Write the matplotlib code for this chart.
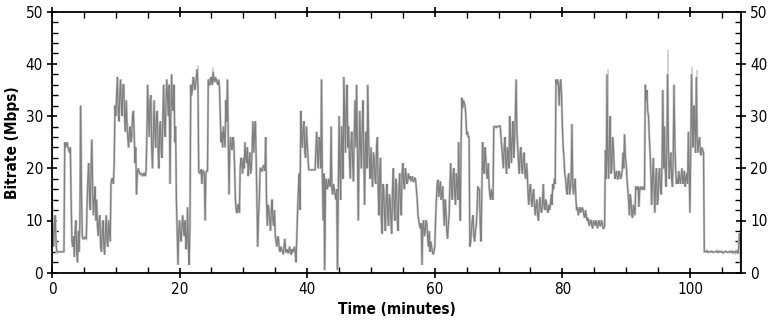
import numpy as np
import matplotlib
matplotlib.use("Agg")
import matplotlib.pyplot as plt
from matplotlib.ticker import MultipleLocator

# Bitrate samples (Mbps), one every 0.25 minute
mbps = [
    15, 5, 11, 4, 4, 4, 4, 4,
    25, 24.5, 24, 23, 14, 5, 3, 10,
    2, 4, 32, 7, 6.5, 6.6, 13, 21,
    12, 25.5, 11, 16.5, 14, 7, 11, 4,
    10, 3.5, 11, 5, 8, 17, 18, 21,
    30, 37.5, 29, 37, 30, 36, 27, 29,
    24, 28, 26, 31, 21, 15, 20, 19,
    19, 18.5, 19, 19.5, 36, 26, 34, 20,
    33, 24, 31, 20, 29, 22, 36, 26,
    37, 30, 17, 38, 31, 25, 14, 1.5,
    10, 6, 11, 7, 4.5, 12.5, 1.5, 36,
    35, 37, 36, 39, 19.5, 19.3, 17, 19.5,
    10, 19.5, 37, 36, 37, 38.5, 36.5, 37,
    36, 35.5, 25, 24, 26, 33, 37, 15,
    26, 23.5, 25, 14, 11.4, 13, 20, 21,
    22, 25, 21, 18.5, 23, 20, 29, 27,
    22, 5, 14, 20, 19.5, 20.5, 26, 9,
    12, 8, 14, 9, 7, 5, 6.5, 4,
    4.5, 3.5, 6.5, 4, 3.7, 5, 3.5, 4,
    5, 2, 12, 19, 31, 24, 29, 22,
    25, 19.7, 19.7, 19.7, 19.7, 19.7, 27, 20,
    25, 37, 10, 0.5, 18, 16.5, 17, 28,
    15, 16, 14, 0.5, 30, 14, 25, 37.5,
    23, 36, 28, 18, 27, 17.5, 33, 36,
    10, 31, 20, 33, 13, 27, 36, 21,
    24, 16.5, 22, 17, 26, 11, 22, 7.5,
    16, 8, 17, 9, 14, 7.5, 20, 10,
    17, 8, 19, 11, 21, 16, 19, 17.5,
    18, 17.5, 18.5, 17.5, 17.8, 14, 10, 8.5,
    1.5, 10, 8, 9.5, 5, 4, 5, 3.5,
    5, 14, 17.8, 16, 14, 16.5, 9, 12,
    6.5, 11, 21, 14, 20, 13, 17, 25,
    10, 33.5, 33, 32, 26.5, 26, 5, 8,
    11, 6, 9, 16.5, 16, 6, 25, 19,
    22, 18, 17, 14, 14.5, 28, 28, 28,
    28, 28.2, 24, 20, 26, 19, 23, 30,
    21, 29, 25, 37, 24, 19, 24, 19,
    23, 18, 19, 13, 17, 12.6, 16, 11,
    14, 10, 14.5, 11.5, 17, 12, 13.5, 11.5,
    12, 15, 17, 18, 37, 37, 32, 37,
    28, 22, 18, 15, 19, 16, 28.5, 15,
    18, 12, 11, 12.5, 12, 12, 10.5, 11,
    10.5, 9, 10, 8.5, 9.5, 10, 8.5, 10,
    9, 9.5, 8.5, 23.5, 38, 18, 30, 20,
    24, 18, 19.5, 18, 19, 18.5, 23, 26.5,
    21, 16, 11, 14, 10.5, 12, 16.5, 16,
    12.6, 16.5, 16, 16, 36, 35, 30, 23,
    13, 22, 11.5, 20, 14, 20, 15, 35,
    28, 16.5, 38, 18, 23, 16.5, 36, 20,
    18, 19.5, 17, 20, 18, 16.5, 19, 27,
    11.5, 38, 24, 28, 37.5, 23, 26, 22.5,
    23.5, 4, 4, 4, 4, 4, 4, 4,
    4, 4.2, 3.9, 4, 4.1, 3.8, 4, 4,
    3.9, 4.1, 4, 3.8, 4, 4.2, 3.7, 7.5,
    0,
]
# In-between readings (at +0.125 minute after each sample above)
mbps_mid = [
    8, 9, 6, 4, 4, 4, 4, 4,
    24, 25, 23.5, 24, 6, 7, 8, 4,
    8, 10, 15, 6.5, 6.8, 6.5, 18, 15,
    20, 16, 14, 10, 9, 10, 5, 8,
    5, 8, 6, 10, 6, 18, 17, 32,
    34, 31, 34, 32, 36, 30, 33, 26,
    27, 25, 30, 27, 24, 19, 19.5, 18.8,
    18.8, 19, 18.5, 27, 30, 33, 24, 26,
    27, 30, 24, 28, 23, 30, 28, 33,
    33, 36, 30, 32, 36, 28, 8, 8,
    7, 9, 8, 10, 6, 5, 9, 34,
    37.5, 35, 37.5, 36, 19, 19.8, 19.5, 19,
    19, 19.5, 36, 37.5, 36, 37, 37.5, 36.5,
    37, 30, 27, 28, 24, 29, 26, 24,
    24, 26, 20, 12, 13, 11.5, 22, 19,
    20, 22, 24, 21, 19, 24, 23, 29,
    14, 11, 20, 19.5, 20.5, 19.5, 14, 13,
    10, 12, 10, 12, 6, 7, 4.5, 5,
    4, 5, 4, 4.5, 4.2, 3.8, 4.5, 4.2,
    4, 7, 16, 12, 26, 28, 23, 28,
    22, 19.7, 19.7, 19.7, 19.7, 24, 22, 26,
    20, 19, 19, 17, 16, 18, 16.5, 16,
    17, 15, 16, 15, 20, 28, 18, 30,
    32, 24, 22, 25, 21, 26, 24, 25,
    22, 24, 28, 22, 25, 20, 26, 18,
    19, 23, 18, 24, 16, 20, 10, 17,
    11, 14, 11, 15, 10, 16, 12, 18,
    10, 16, 13, 19, 17, 20, 17, 19,
    18.5, 18, 17.5, 18.2, 16, 11, 9, 9.5,
    9, 7, 10, 7, 8, 6, 4, 4,
    10, 17, 14.5, 17.5, 15, 12, 14, 8,
    9, 17, 16, 19, 15, 19, 14, 16,
    25, 31.5, 32.5, 30, 27, 26, 6, 10,
    7, 8, 12, 16, 9, 16, 20, 24,
    19, 21, 15, 16, 14, 28, 27.8, 28,
    28, 26, 22, 24, 21, 24, 20, 25,
    26, 22, 30, 27, 21, 23, 20, 22,
    19, 21, 15, 16, 14, 15, 13, 13,
    11, 13, 12, 13, 13, 14, 12, 13,
    13, 13, 16, 17, 36, 36, 36, 34,
    24, 19, 16, 18, 15, 18, 17, 17,
    14, 12.5, 12, 11.5, 12.5, 11, 12, 10,
    9.5, 10, 9, 10, 9, 9.5, 9.5, 9,
    10, 8.5, 9, 18, 22, 25, 19, 26,
    20, 19, 18, 19.5, 18, 19.5, 20, 22,
    18, 14, 15, 11, 13, 11, 16, 16.5,
    16, 16, 16.5, 16, 33, 31, 26, 19,
    18, 16, 18, 13, 19, 16, 21, 20,
    20, 24, 24, 21, 18, 22, 25, 17,
    17, 18, 18.5, 17, 19.5, 18, 17, 19,
    24, 28, 32, 23, 26, 25, 23, 24,
    23, 4, 4.2, 3.9, 4, 4.1, 3.9, 4,
    4, 3.9, 4.1, 4, 3.8, 4, 4.1, 3.9,
    4, 3.9, 4.1, 4, 3.8, 4, 4.5, 7,
]
sample_step_min = 0.25

# Peak (light grey) spikes that rise above the average trace
peak_minutes = [22.9, 25.3, 87.2, 96.6, 100.3, 101.1]
peak_mbps = [39.8, 39.5, 39.0, 42.6, 39.5, 38.8]

x_ticks = [0, 20, 40, 60, 80, 100]
y_ticks = [0, 10, 20, 30, 40, 50]

plt.rcParams['font.family'] = ['DejaVu Sans']
plt.rcParams['font.stretch'] = 'condensed'

# interleave main samples and in-between readings along time
n = len(mbps)
minutes = np.empty(n + len(mbps_mid))
values = np.empty(n + len(mbps_mid))
minutes[0::2] = np.arange(n) * sample_step_min
minutes[1::2] = np.arange(len(mbps_mid)) * sample_step_min + sample_step_min / 2
values[0::2] = mbps
values[1::2] = mbps_mid

fig = plt.figure(figsize=(7.70, 3.22), dpi=100)
ax = fig.add_axes([52 / 770, 1 - 272.7 / 322, (741 - 52) / 770, (272.7 - 11.7) / 322])

ax.plot(minutes, values, color='#cdcdcd', lw=1.8, solid_joinstyle='miter')
ax.vlines(peak_minutes, np.interp(peak_minutes, minutes, values), peak_mbps,
          color='#cdcdcd', lw=1.2)
ax.plot(minutes, values, color='#808080', lw=0.9, solid_joinstyle='miter')

ax.set_xlim(0, 108)
ax.set_ylim(0, 50)
ax.set_xticks(x_ticks)
ax.set_yticks(y_ticks)
ax.xaxis.set_minor_locator(MultipleLocator(5))
ax.yaxis.set_minor_locator(MultipleLocator(2))

ax.tick_params(which='major', direction='inout', length=7, width=1.2,
               top=True, right=True, labelright=True, labelsize=11, pad=3)
ax.tick_params(which='minor', direction='in', length=4, width=1.0,
               top=True, right=True)
for s in ax.spines.values():
    s.set_linewidth(1.3)
    s.set_color('black')

ax.set_xlabel('Time (minutes)', fontsize=11, fontweight='bold', labelpad=4)
ax.set_ylabel('Bitrate (Mbps)', fontsize=11, fontweight='bold', labelpad=4)

fig.savefig('out.png', dpi=100)
